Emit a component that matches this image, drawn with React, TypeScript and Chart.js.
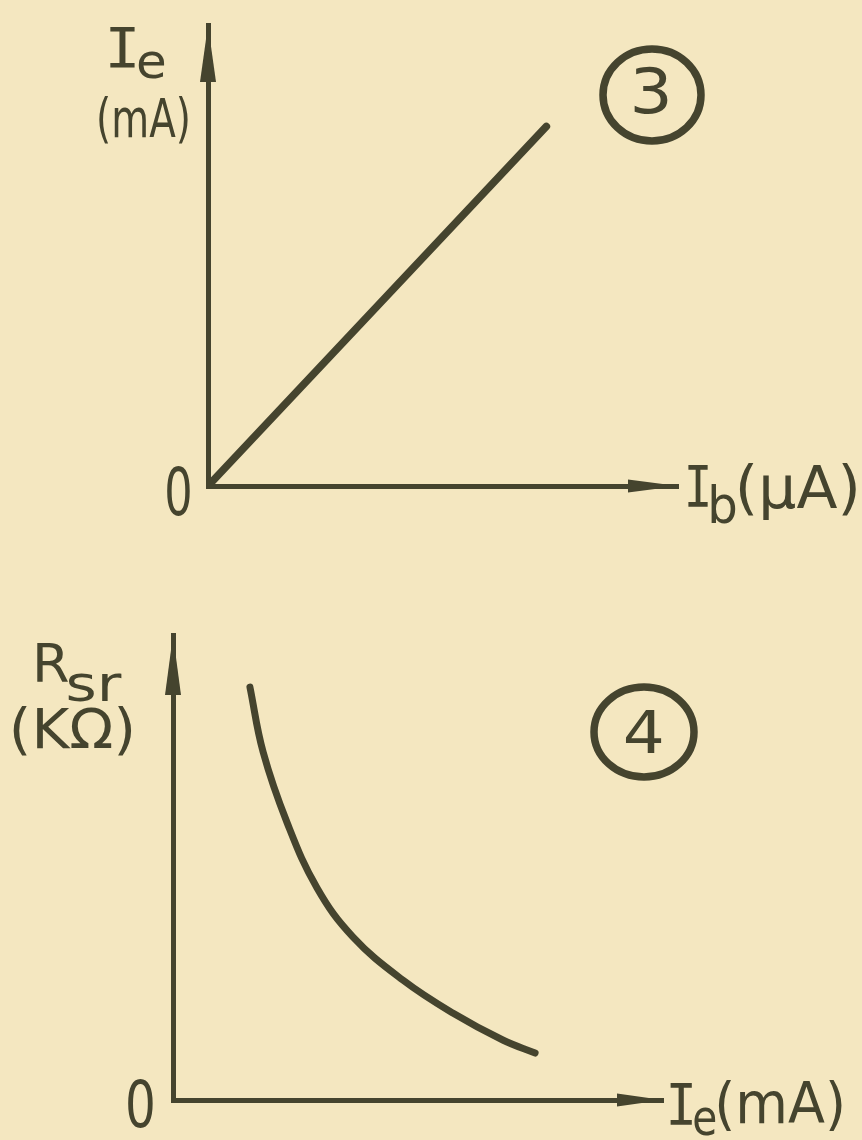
import React, { useEffect, useRef } from 'react';
import { Chart, registerables } from 'chart.js';

Chart.register(...registerables);

const PAPER = '#f4e7c0';
const INK = '#45442e';
const SANS = '"DejaVu Sans", "Noto Sans", sans-serif';
const MONO = '"DejaVu Sans Mono", "Liberation Mono", monospace';

// Fig. 3 – emitter current rises linearly with base current
const ibValues = [0, 7.2];
const ieValues = [0, 7.8];

// Fig. 4 – resistance falls as emitter current grows
const ieCurrent = [1.57, 1.84, 2.33, 2.94, 3.67, 4.69, 5.71, 6.73, 7.39];
const rsrValues = [8.88, 7.48, 5.96, 4.56, 3.51, 2.58, 1.87, 1.29, 1.01];

// axis range and the single tick shown at the origin
const axisMin = 0;
const axisMax = 10;
const originTick = ['0'];
const figureNumbers = ['3', '4'];

type Piece = { text: string; left: number; baseline: number; width: number; size: number; font: string };
type Decor = {
  labels: Piece[];
  origin: { dx: number; dy: number; width: number; size: number };
  badge: { cx: number; cy: number; rx: number; ry: number; text: string; left: number; baseline: number; width: number; size: number };
  yArrow: { len: number; w: number };
  xArrow: { len: number; w: number };
};

// draws text so that its ink spans exactly `width` pixels from `left`
function fitText(ctx: CanvasRenderingContext2D, p: Piece) {
  ctx.font = `${p.size}px ${p.font}`;
  ctx.textAlign = 'left';
  ctx.textBaseline = 'alphabetic';
  const m = ctx.measureText(p.text);
  const ink = m.actualBoundingBoxLeft + m.actualBoundingBoxRight;
  const sx = ink > 0 ? p.width / ink : 1;
  ctx.save();
  ctx.translate(p.left, p.baseline);
  ctx.scale(sx, 1);
  ctx.fillText(p.text, m.actualBoundingBoxLeft, 0);
  ctx.restore();
}

function decorPlugin(d: Decor) {
  return {
    id: 'figureDecor',
    afterDraw(chart: any) {
      const ctx: CanvasRenderingContext2D = chart.ctx;
      const xs = chart.scales.x;
      const ys = chart.scales.y;
      const x0 = xs.getPixelForValue(axisMin);
      const xTip = xs.getPixelForValue(axisMax);
      const y0 = ys.getPixelForValue(axisMin);
      const yTip = ys.getPixelForValue(axisMax);
      ctx.save();
      ctx.fillStyle = INK;
      ctx.strokeStyle = INK;

      // arrowheads at the ends of both axes
      ctx.beginPath();
      ctx.moveTo(x0, yTip);
      ctx.lineTo(x0 - d.yArrow.w / 2, yTip + d.yArrow.len);
      ctx.lineTo(x0 + d.yArrow.w / 2, yTip + d.yArrow.len);
      ctx.closePath();
      ctx.fill();
      ctx.beginPath();
      ctx.moveTo(xTip, y0);
      ctx.lineTo(xTip - d.xArrow.len, y0 - d.xArrow.w / 2);
      ctx.lineTo(xTip - d.xArrow.len, y0 + d.xArrow.w / 2);
      ctx.closePath();
      ctx.fill();

      // origin tick label
      fitText(ctx, {
        text: originTick[0],
        left: x0 + d.origin.dx,
        baseline: y0 + d.origin.dy,
        width: d.origin.width,
        size: d.origin.size,
        font: SANS,
      });

      // axis names
      d.labels.forEach((p) => fitText(ctx, p));

      // circled figure number
      const b = d.badge;
      ctx.lineWidth = 7.5;
      ctx.beginPath();
      ctx.ellipse(b.cx, b.cy, b.rx, b.ry, 0, 0, Math.PI * 2);
      ctx.stroke();
      fitText(ctx, { text: b.text, left: b.left, baseline: b.baseline, width: b.width, size: b.size, font: SANS });
      ctx.restore();
    },
  };
}

function axis(fitKey: 'width' | 'height') {
  return {
    type: 'linear',
    min: axisMin,
    max: axisMax,
    ticks: { display: false },
    grid: { drawOnChartArea: false, drawTicks: false },
    border: { display: true, color: INK, width: 5 },
    afterFit: (s: any) => {
      s[fitKey] = 0;
    },
  };
}

function baseOptions(padding: { left: number; right: number; top: number; bottom: number }) {
  return {
    responsive: false,
    animation: false,
    events: [],
    layout: { padding, autoPadding: false },
    plugins: { legend: { display: false }, tooltip: { enabled: false }, title: { display: false } },
    scales: { x: axis('height'), y: axis('width') },
  };
}

function fig3Config(): any {
  return {
    type: 'scatter',
    data: {
      datasets: [
        {
          data: ibValues.map((x, i) => ({ x, y: ieValues[i] })),
          showLine: true,
          borderColor: INK,
          borderWidth: 7.5,
          borderCapStyle: 'round',
          pointRadius: 0,
          tension: 0,
        },
      ],
    },
    options: baseOptions({ left: 208, right: 184, top: 25, bottom: 84 }),
    plugins: [
      decorPlugin({
        labels: [
          { text: 'I', left: 110, baseline: 67, width: 25, size: 55, font: MONO },
          { text: 'e', left: 138, baseline: 78, width: 26, size: 48, font: SANS },
          { text: '(mA)', left: 99, baseline: 137, width: 89, size: 54, font: SANS },
          { text: 'I', left: 688, baseline: 507, width: 20, size: 57, font: MONO },
          { text: 'b', left: 711, baseline: 523, width: 25, size: 52, font: SANS },
          { text: '(μA)', left: 739, baseline: 508, width: 117, size: 58, font: SANS },
        ],
        origin: { dx: -41, dy: 29, width: 23, size: 66 },
        badge: { cx: 652, cy: 95, rx: 49, ry: 46, text: figureNumbers[0], left: 634, baseline: 113, width: 34, size: 62 },
        yArrow: { len: 57, w: 16 },
        xArrow: { len: 50, w: 13 },
      }),
    ],
  };
}

function fig4Config(): any {
  return {
    type: 'scatter',
    data: {
      datasets: [
        {
          data: ieCurrent.map((x, i) => ({ x, y: rsrValues[i] })),
          showLine: true,
          borderColor: INK,
          borderWidth: 7,
          borderCapStyle: 'round',
          borderJoinStyle: 'round',
          pointRadius: 0,
          tension: 0.4,
        },
      ],
    },
    options: baseOptions({ left: 173, right: 199, top: 65, bottom: 40 }),
    plugins: [
      decorPlugin({
        labels: [
          { text: 'R', left: 37, baseline: 112, width: 31, size: 54, font: SANS },
          { text: 'sr', left: 68, baseline: 131, width: 54, size: 50, font: SANS },
          { text: '(KΩ)', left: 13, baseline: 178, width: 119, size: 56, font: SANS },
          { text: 'I', left: 670, baseline: 555, width: 22, size: 57, font: MONO },
          { text: 'e', left: 694, baseline: 565, width: 22, size: 50, font: SANS },
          { text: '(mA)', left: 718, baseline: 553, width: 124, size: 57, font: SANS },
        ],
        origin: { dx: -45, dy: 27, width: 25, size: 64 },
        badge: { cx: 644, cy: 162, rx: 50, ry: 45, text: figureNumbers[1], left: 625, baseline: 183, width: 37, size: 59 },
        yArrow: { len: 60, w: 16 },
        xArrow: { len: 46, w: 13 },
      }),
    ],
  };
}

function FigurePanel({ build }: { build: () => any }) {
  const ref = useRef<HTMLCanvasElement | null>(null);
  useEffect(() => {
    if (!ref.current) return;
    const chart = new Chart(ref.current, build());
    return () => chart.destroy();
  }, [build]);
  return <canvas ref={ref} width={862} height={570} style={{ display: 'block' }} />;
}

export default function App() {
  useEffect(() => {
    document.body.style.margin = '0';
    document.body.style.background = PAPER;
    document.documentElement.style.background = PAPER;
  }, []);
  return (
    <div style={{ width: 862, height: 1140, background: PAPER, overflow: 'hidden' }}>
      <FigurePanel build={fig3Config} />
      <FigurePanel build={fig4Config} />
    </div>
  );
}
